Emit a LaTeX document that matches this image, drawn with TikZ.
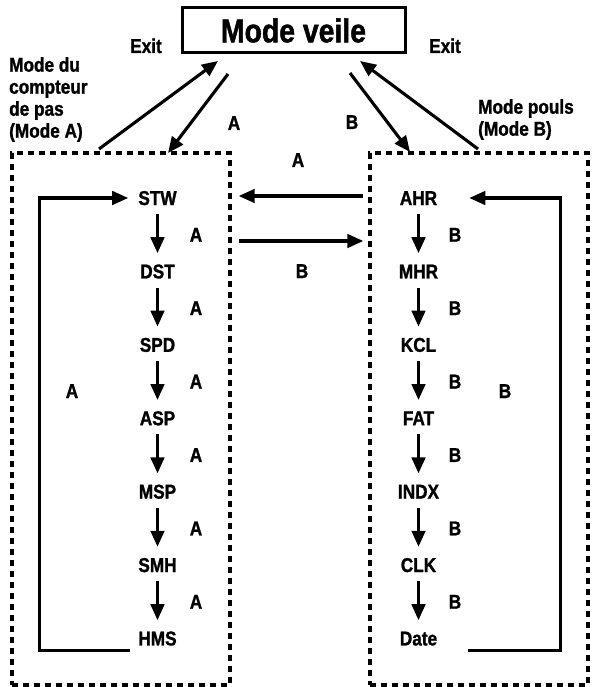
\documentclass[tikz,border=0pt]{standalone}
\usepackage{fontspec}
\setmainfont{Liberation Sans}[FakeStretch=0.86, BoldFeatures={FakeBold=1.3}]
\usetikzlibrary{arrows.meta}
\begin{document}
\begin{tikzpicture}[x=1pt,y=-1pt,
  lbl/.style={font=\fontsize{20}{22}\selectfont\bfseries, inner sep=0pt, text height=14pt, text depth=0pt},
  ml/.style={font=\fontsize{20}{22}\selectfont\bfseries, inner sep=0pt, align=left, anchor=north west},
  arr/.style={line width=3.1pt, -{Triangle[length=16pt,width=13.5pt]}},
  dbox/.style={draw, line width=3.4pt, dash pattern=on 6pt off 5pt, minimum width=218pt, minimum height=532pt, inner sep=0pt},
]
\useasboundingbox (0,0) rectangle (595,687);
% standby box
\node[draw, line width=3pt, minimum width=223pt, minimum height=45pt, inner sep=0pt,
      font=\fontsize{33}{36}\selectfont\bfseries] (mv) at (293.5,30.5) {Mode veile};
% mode boxes
\node[dbox] (lbox) at (121,419) {};
\node[dbox] (rbox) at (479,419) {};
% titles
\node[ml] (lt) at (9,57) {Mode du\\compteur\\de pas\\(Mode A)};
\node[ml] (rt) at (478,99) {Mode pouls\\(Mode B)};
\node[lbl] (ex1) at (146,46) {Exit};
\node[lbl] (ex2) at (445,46) {Exit};
% top connectors
\coordinate (e1s) at (99,149);
\coordinate (e1t) at (218,61);
\coordinate (a1s) at (228,74);
\coordinate (a1t) at (168,153);
\coordinate (b1s) at (350,73);
\coordinate (b1t) at (410,152);
\coordinate (e2s) at (478,149);
\coordinate (e2t) at (360,61);
\draw[arr] (e1s) -- (e1t);
\draw[arr] (a1s) -- (a1t);
\draw[arr] (b1s) -- (b1t);
\draw[arr] (e2s) -- (e2t);
\node[lbl] (la) at (234,123) {A};
\node[lbl] (lb) at (352,122) {B};
% columns
\foreach \nm [count=\i from 0] in {STW,DST,SPD,ASP,MSP,SMH,HMS}
  \node[lbl] (\nm) at (157.5,198+73.4*\i) {\nm};
\foreach \nm [count=\i from 0] in {AHR,MHR,KCL,FAT,INDX,CLK,Date}
  \node[lbl] (\nm) at (418.5,198+73.4*\i) {\nm};
\foreach \p/\q [count=\i from 0] in {STW/DST,DST/SPD,SPD/ASP,ASP/MSP,MSP/SMH,SMH/HMS}{
  \draw[arr, shorten <=9pt, shorten >=11pt] (\p) -- (\q);
  \node[lbl] (A\i) at (196,234.7+73.4*\i) {A};
}
\foreach \p/\q [count=\i from 0] in {AHR/MHR,MHR/KCL,KCL/FAT,FAT/INDX,INDX/CLK,CLK/Date}{
  \draw[arr, shorten <=9pt, shorten >=11pt] (\p) -- (\q);
  \node[lbl] (B\i) at (455,234.7+73.4*\i) {B};
}
% loops
\draw[arr] ([xshift=-8pt,yshift=-12.5pt]HMS.west) -- ++(-91,0) |- ([xshift=-10pt]STW.west);
\draw[arr] ([xshift=31pt,yshift=-12.5pt]Date.east) -- ++(92,0) |- ([xshift=32pt]AHR.east);
\node[lbl] (bigA) at (72,391) {A};
\node[lbl] (bigB) at (505,391) {B};
% between boxes
\coordinate (mA) at (300,196);
\coordinate (mB) at (300,241);
\draw[arr, shorten <=5pt, shorten >=7pt] (rbox.west |- mA) -- (lbox.east |- mA);
\draw[arr, shorten <=7pt, shorten >=5pt] (lbox.east |- mB) -- (rbox.west |- mB);
\node[lbl] (midA) at (298,160) {A};
\node[lbl] (midB) at (302,271) {B};
\end{tikzpicture}
\end{document}
